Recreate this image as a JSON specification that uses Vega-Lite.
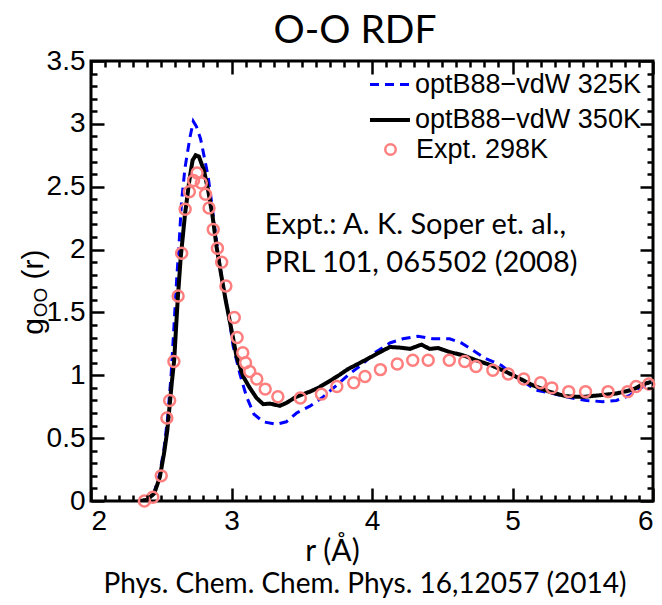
{
  "$schema": "https://vega.github.io/schema/vega-lite/v6.json",
  "width": 562,
  "height": 440,
  "autosize": {"type": "none"},
  "padding": {"left": 91, "top": 61, "right": 9, "bottom": 104},
  "background": "white",
  "config": {
    "view": {"stroke": "black", "strokeWidth": 3},
    "axis": {"grid": false, "domain": true, "domainColor": "transparent", "ticks": true, "tickWidth": 2.5, "labelColor": "black", "labelFont": "Liberation Sans", "labelFontSize": 28, "titleColor": "black"},
    "legend": {"padding": 0}
  },
  "title": {"text": "O-O RDF", "font": "Lato", "fontSize": 39, "fontWeight": "normal", "color": "black", "anchor": "middle", "dx": -17, "offset": -4},
  "datasets": {
    "rdf": [
      {"series": "optB88−vdW 325K", "r": 2.35, "g": 0},
      {"series": "optB88−vdW 325K", "r": 2.40, "g": 0.01},
      {"series": "optB88−vdW 325K", "r": 2.45, "g": 0.07},
      {"series": "optB88−vdW 325K", "r": 2.49, "g": 0.22},
      {"series": "optB88−vdW 325K", "r": 2.52, "g": 0.42},
      {"series": "optB88−vdW 325K", "r": 2.545, "g": 0.66},
      {"series": "optB88−vdW 325K", "r": 2.57, "g": 1.0},
      {"series": "optB88−vdW 325K", "r": 2.59, "g": 1.38},
      {"series": "optB88−vdW 325K", "r": 2.609, "g": 1.75},
      {"series": "optB88−vdW 325K", "r": 2.628, "g": 2.07},
      {"series": "optB88−vdW 325K", "r": 2.645, "g": 2.39},
      {"series": "optB88−vdW 325K", "r": 2.669, "g": 2.65},
      {"series": "optB88−vdW 325K", "r": 2.704, "g": 2.89},
      {"series": "optB88−vdW 325K", "r": 2.728, "g": 3.02},
      {"series": "optB88−vdW 325K", "r": 2.75, "g": 2.98},
      {"series": "optB88−vdW 325K", "r": 2.78, "g": 2.88},
      {"series": "optB88−vdW 325K", "r": 2.80, "g": 2.77},
      {"series": "optB88−vdW 325K", "r": 2.834, "g": 2.58},
      {"series": "optB88−vdW 325K", "r": 2.858, "g": 2.38},
      {"series": "optB88−vdW 325K", "r": 2.88, "g": 2.18},
      {"series": "optB88−vdW 325K", "r": 2.905, "g": 1.97},
      {"series": "optB88−vdW 325K", "r": 2.94, "g": 1.70},
      {"series": "optB88−vdW 325K", "r": 2.977, "g": 1.50},
      {"series": "optB88−vdW 325K", "r": 3.012, "g": 1.23},
      {"series": "optB88−vdW 325K", "r": 3.06, "g": 1.01},
      {"series": "optB88−vdW 325K", "r": 3.107, "g": 0.83},
      {"series": "optB88−vdW 325K", "r": 3.16, "g": 0.69},
      {"series": "optB88−vdW 325K", "r": 3.226, "g": 0.63},
      {"series": "optB88−vdW 325K", "r": 3.32, "g": 0.61},
      {"series": "optB88−vdW 325K", "r": 3.39, "g": 0.63},
      {"series": "optB88−vdW 325K", "r": 3.463, "g": 0.70},
      {"series": "optB88−vdW 325K", "r": 3.558, "g": 0.754},
      {"series": "optB88−vdW 325K", "r": 3.652, "g": 0.828},
      {"series": "optB88−vdW 325K", "r": 3.747, "g": 0.92},
      {"series": "optB88−vdW 325K", "r": 3.842, "g": 1.013},
      {"series": "optB88−vdW 325K", "r": 3.937, "g": 1.093},
      {"series": "optB88−vdW 325K", "r": 4.02, "g": 1.18},
      {"series": "optB88−vdW 325K", "r": 4.127, "g": 1.257},
      {"series": "optB88−vdW 325K", "r": 4.22, "g": 1.29},
      {"series": "optB88−vdW 325K", "r": 4.328, "g": 1.31},
      {"series": "optB88−vdW 325K", "r": 4.435, "g": 1.29},
      {"series": "optB88−vdW 325K", "r": 4.553, "g": 1.29},
      {"series": "optB88−vdW 325K", "r": 4.636, "g": 1.257},
      {"series": "optB88−vdW 325K", "r": 4.72, "g": 1.198},
      {"series": "optB88−vdW 325K", "r": 4.81, "g": 1.132},
      {"series": "optB88−vdW 325K", "r": 4.92, "g": 1.08},
      {"series": "optB88−vdW 325K", "r": 5.028, "g": 0.987},
      {"series": "optB88−vdW 325K", "r": 5.17, "g": 0.881},
      {"series": "optB88−vdW 325K", "r": 5.288, "g": 0.855},
      {"series": "optB88−vdW 325K", "r": 5.407, "g": 0.823},
      {"series": "optB88−vdW 325K", "r": 5.525, "g": 0.80},
      {"series": "optB88−vdW 325K", "r": 5.643, "g": 0.79},
      {"series": "optB88−vdW 325K", "r": 5.74, "g": 0.80},
      {"series": "optB88−vdW 325K", "r": 5.834, "g": 0.84},
      {"series": "optB88−vdW 325K", "r": 5.905, "g": 0.894},
      {"series": "optB88−vdW 325K", "r": 5.987, "g": 0.947},
      {"series": "optB88−vdW 350K", "r": 2.35, "g": 0},
      {"series": "optB88−vdW 350K", "r": 2.40, "g": 0.01},
      {"series": "optB88−vdW 350K", "r": 2.45, "g": 0.06},
      {"series": "optB88−vdW 350K", "r": 2.49, "g": 0.19},
      {"series": "optB88−vdW 350K", "r": 2.52, "g": 0.38},
      {"series": "optB88−vdW 350K", "r": 2.543, "g": 0.56},
      {"series": "optB88−vdW 350K", "r": 2.574, "g": 0.93},
      {"series": "optB88−vdW 350K", "r": 2.592, "g": 1.12},
      {"series": "optB88−vdW 350K", "r": 2.617, "g": 1.60},
      {"series": "optB88−vdW 350K", "r": 2.638, "g": 1.93},
      {"series": "optB88−vdW 350K", "r": 2.669, "g": 2.28},
      {"series": "optB88−vdW 350K", "r": 2.70, "g": 2.55},
      {"series": "optB88−vdW 350K", "r": 2.723, "g": 2.71},
      {"series": "optB88−vdW 350K", "r": 2.745, "g": 2.75},
      {"series": "optB88−vdW 350K", "r": 2.768, "g": 2.74},
      {"series": "optB88−vdW 350K", "r": 2.804, "g": 2.63},
      {"series": "optB88−vdW 350K", "r": 2.834, "g": 2.47},
      {"series": "optB88−vdW 350K", "r": 2.866, "g": 2.26},
      {"series": "optB88−vdW 350K", "r": 2.894, "g": 2.02},
      {"series": "optB88−vdW 350K", "r": 2.925, "g": 1.81},
      {"series": "optB88−vdW 350K", "r": 2.958, "g": 1.60},
      {"series": "optB88−vdW 350K", "r": 3.0, "g": 1.36},
      {"series": "optB88−vdW 350K", "r": 3.036, "g": 1.15},
      {"series": "optB88−vdW 350K", "r": 3.083, "g": 0.99},
      {"series": "optB88−vdW 350K", "r": 3.13, "g": 0.90},
      {"series": "optB88−vdW 350K", "r": 3.178, "g": 0.82},
      {"series": "optB88−vdW 350K", "r": 3.226, "g": 0.77},
      {"series": "optB88−vdW 350K", "r": 3.273, "g": 0.775},
      {"series": "optB88−vdW 350K", "r": 3.344, "g": 0.757},
      {"series": "optB88−vdW 350K", "r": 3.39, "g": 0.78},
      {"series": "optB88−vdW 350K", "r": 3.463, "g": 0.83},
      {"series": "optB88−vdW 350K", "r": 3.558, "g": 0.87},
      {"series": "optB88−vdW 350K", "r": 3.617, "g": 0.90},
      {"series": "optB88−vdW 350K", "r": 3.70, "g": 0.955},
      {"series": "optB88−vdW 350K", "r": 3.771, "g": 1.005},
      {"series": "optB88−vdW 350K", "r": 3.83, "g": 1.05},
      {"series": "optB88−vdW 350K", "r": 3.90, "g": 1.09},
      {"series": "optB88−vdW 350K", "r": 3.984, "g": 1.14},
      {"series": "optB88−vdW 350K", "r": 4.05, "g": 1.18},
      {"series": "optB88−vdW 350K", "r": 4.127, "g": 1.225},
      {"series": "optB88−vdW 350K", "r": 4.20, "g": 1.22},
      {"series": "optB88−vdW 350K", "r": 4.27, "g": 1.21},
      {"series": "optB88−vdW 350K", "r": 4.352, "g": 1.244},
      {"series": "optB88−vdW 350K", "r": 4.41, "g": 1.21},
      {"series": "optB88−vdW 350K", "r": 4.47, "g": 1.217},
      {"series": "optB88−vdW 350K", "r": 4.553, "g": 1.185},
      {"series": "optB88−vdW 350K", "r": 4.648, "g": 1.159},
      {"series": "optB88−vdW 350K", "r": 4.743, "g": 1.119},
      {"series": "optB88−vdW 350K", "r": 4.85, "g": 1.079},
      {"series": "optB88−vdW 350K", "r": 4.957, "g": 1.026},
      {"series": "optB88−vdW 350K", "r": 5.028, "g": 0.987},
      {"series": "optB88−vdW 350K", "r": 5.146, "g": 0.92},
      {"series": "optB88−vdW 350K", "r": 5.265, "g": 0.868},
      {"series": "optB88−vdW 350K", "r": 5.383, "g": 0.833},
      {"series": "optB88−vdW 350K", "r": 5.5, "g": 0.828},
      {"series": "optB88−vdW 350K", "r": 5.62, "g": 0.841},
      {"series": "optB88−vdW 350K", "r": 5.739, "g": 0.855},
      {"series": "optB88−vdW 350K", "r": 5.857, "g": 0.886},
      {"series": "optB88−vdW 350K", "r": 5.928, "g": 0.929},
      {"series": "optB88−vdW 350K", "r": 5.987, "g": 0.947},
      {"series": "Expt. 298K", "r": 2.38, "g": 0.0},
      {"series": "Expt. 298K", "r": 2.44, "g": 0.03},
      {"series": "Expt. 298K", "r": 2.50, "g": 0.20},
      {"series": "Expt. 298K", "r": 2.54, "g": 0.66},
      {"series": "Expt. 298K", "r": 2.56, "g": 0.80},
      {"series": "Expt. 298K", "r": 2.59, "g": 1.11},
      {"series": "Expt. 298K", "r": 2.62, "g": 1.63},
      {"series": "Expt. 298K", "r": 2.645, "g": 1.97},
      {"series": "Expt. 298K", "r": 2.67, "g": 2.32},
      {"series": "Expt. 298K", "r": 2.70, "g": 2.46},
      {"series": "Expt. 298K", "r": 2.73, "g": 2.55},
      {"series": "Expt. 298K", "r": 2.755, "g": 2.61},
      {"series": "Expt. 298K", "r": 2.785, "g": 2.53},
      {"series": "Expt. 298K", "r": 2.815, "g": 2.44},
      {"series": "Expt. 298K", "r": 2.84, "g": 2.33},
      {"series": "Expt. 298K", "r": 2.87, "g": 2.16},
      {"series": "Expt. 298K", "r": 2.90, "g": 2.01},
      {"series": "Expt. 298K", "r": 2.93, "g": 1.90},
      {"series": "Expt. 298K", "r": 2.96, "g": 1.71},
      {"series": "Expt. 298K", "r": 3.02, "g": 1.46},
      {"series": "Expt. 298K", "r": 3.04, "g": 1.30},
      {"series": "Expt. 298K", "r": 3.08, "g": 1.18},
      {"series": "Expt. 298K", "r": 3.10, "g": 1.10},
      {"series": "Expt. 298K", "r": 3.13, "g": 1.03},
      {"series": "Expt. 298K", "r": 3.18, "g": 0.97},
      {"series": "Expt. 298K", "r": 3.24, "g": 0.89},
      {"series": "Expt. 298K", "r": 3.33, "g": 0.83},
      {"series": "Expt. 298K", "r": 3.49, "g": 0.82},
      {"series": "Expt. 298K", "r": 3.64, "g": 0.85},
      {"series": "Expt. 298K", "r": 3.75, "g": 0.91},
      {"series": "Expt. 298K", "r": 3.87, "g": 0.94},
      {"series": "Expt. 298K", "r": 3.95, "g": 0.99},
      {"series": "Expt. 298K", "r": 4.06, "g": 1.045},
      {"series": "Expt. 298K", "r": 4.18, "g": 1.09},
      {"series": "Expt. 298K", "r": 4.29, "g": 1.12},
      {"series": "Expt. 298K", "r": 4.40, "g": 1.12},
      {"series": "Expt. 298K", "r": 4.55, "g": 1.12},
      {"series": "Expt. 298K", "r": 4.66, "g": 1.11},
      {"series": "Expt. 298K", "r": 4.74, "g": 1.07},
      {"series": "Expt. 298K", "r": 4.86, "g": 1.04},
      {"series": "Expt. 298K", "r": 4.97, "g": 1.01},
      {"series": "Expt. 298K", "r": 5.08, "g": 0.97},
      {"series": "Expt. 298K", "r": 5.20, "g": 0.94},
      {"series": "Expt. 298K", "r": 5.28, "g": 0.90},
      {"series": "Expt. 298K", "r": 5.40, "g": 0.87},
      {"series": "Expt. 298K", "r": 5.52, "g": 0.87},
      {"series": "Expt. 298K", "r": 5.68, "g": 0.87},
      {"series": "Expt. 298K", "r": 5.82, "g": 0.87},
      {"series": "Expt. 298K", "r": 5.88, "g": 0.91},
      {"series": "Expt. 298K", "r": 5.97, "g": 0.93}
    ],
    "notes": [
      {"text": "Expt.: A. K. Soper et. al.,", "r": 3.2375, "g": 2.198},
      {"text": "PRL 101, 065502 (2008)", "r": 3.2375, "g": 1.897}
    ],
    "cite": [
      {"text": "Phys. Chem. Chem. Phys. 16,12057 (2014)", "r": 3.95, "g": -0.667}
    ],
    "ytitle": [
      {"text": "g", "r": 1.659, "g": 1.389},
      {"text": "OO", "r": 1.687, "g": 1.579},
      {"text": "(r)", "r": 1.659, "g": 1.881}
    ]
  },
  "resolve": {"axis": {"x": "independent", "y": "independent"}},
  "layer": [
    {
      "data": {"name": "rdf"},
      "transform": [{"filter": "datum.series !== 'Expt. 298K'"}],
      "mark": {"type": "line", "clip": true},
      "encoding": {
        "x": {"field": "r", "type": "quantitative",
          "scale": {"domain": [2, 6], "nice": false, "zero": false},
          "axis": {"orient": "bottom", "values": [2, 3, 4, 5, 6], "format": "d",
            "offset": -13, "tickSize": 13, "tickColor": "black", "labelPadding": 6, "zindex": 1,
            "title": "r (Å)", "titleFont": "Lato", "titleFontSize": 30, "titleFontWeight": "normal", "titlePadding": 1, "titleX": 241, "titleAlign": "center"}},
        "y": {"field": "g", "type": "quantitative",
          "scale": {"domain": [0, 3.5], "nice": false, "zero": false},
          "axis": {"orient": "left", "values": [0, 0.5, 1, 1.5, 2, 2.5, 3, 3.5],
            "labelExpr": "'' + datum.value",
            "offset": -13, "tickSize": 13, "tickColor": "black", "labelPadding": 6, "zindex": 1, "title": null}},
        "stroke": {"field": "series", "type": "nominal",
          "scale": {"domain": ["optB88−vdW 325K", "optB88−vdW 350K"], "range": ["#0000ff", "#000000"]},
          "legend": {"title": null, "orient": "none", "legendX": 277, "legendY": 2, "symbolType": "stroke", "symbolSize": 1600, "symbolStrokeWidth": 3.5, "labelFont": "Liberation Sans", "labelFontSize": 27, "labelColor": "black", "labelOffset": 3, "labelLimit": 400, "rowPadding": 0}},
        "strokeDash": {"field": "series", "type": "nominal",
          "scale": {"domain": ["optB88−vdW 325K", "optB88−vdW 350K"], "range": [[9, 6], [1, 0]]},
          "legend": {"title": null, "orient": "none", "legendX": 277, "legendY": 2, "symbolType": "stroke", "symbolSize": 1600, "symbolStrokeWidth": 3.5, "labelFont": "Liberation Sans", "labelFontSize": 27, "labelColor": "black", "labelOffset": 3, "labelLimit": 400, "rowPadding": 0}},
        "strokeWidth": {"field": "series", "type": "nominal",
          "scale": {"domain": ["optB88−vdW 325K", "optB88−vdW 350K"], "range": [3, 4]},
          "legend": null}
      }
    },
    {
      "data": {"name": "rdf"},
      "transform": [{"filter": "datum.series === 'Expt. 298K'"}],
      "mark": {"type": "point", "filled": false, "color": "#ff7f7f", "strokeWidth": 2.5, "size": 120, "opacity": 1},
      "encoding": {
        "x": {"field": "r", "type": "quantitative",
          "axis": {"orient": "top", "values": [2, 3, 4, 5, 6], "labels": false, "offset": -13, "tickSize": 13, "tickColor": "black", "zindex": 1, "title": null}},
        "y": {"field": "g", "type": "quantitative",
          "axis": {"orient": "right", "values": [0, 0.5, 1, 1.5, 2, 2.5, 3, 3.5], "labels": false, "offset": -13, "tickSize": 13, "tickColor": "black", "zindex": 1, "title": null}},
        "shape": {"field": "series", "type": "nominal",
          "scale": {"domain": ["Expt. 298K"], "range": ["circle"]},
          "legend": {"title": null, "orient": "none", "legendX": 286, "legendY": 75, "symbolSize": 110, "symbolStrokeColor": "#ff7f7f", "symbolStrokeWidth": 2.5, "labelFont": "Liberation Sans", "labelFontSize": 27, "labelColor": "black", "labelOffset": 12}}
      }
    },
    {
      "data": {"name": "notes"},
      "mark": {"type": "text", "align": "left", "baseline": "middle", "font": "Lato", "fontSize": 29, "color": "black"},
      "encoding": {
        "x": {"field": "r", "type": "quantitative",
          "axis": {"orient": "bottom", "values": [2.1,2.2,2.3,2.4,2.5,2.6,2.7,2.8,2.9,3.1,3.2,3.3,3.4,3.5,3.6,3.7,3.8,3.9,4.1,4.2,4.3,4.4,4.5,4.6,4.7,4.8,4.9,5.1,5.2,5.3,5.4,5.5,5.6,5.7,5.8,5.9], "labels": false, "offset": -6, "tickSize": 6, "tickColor": "black", "zindex": 1, "title": null}},
        "y": {"field": "g", "type": "quantitative",
          "axis": {"orient": "left", "values": [0.1,0.2,0.3,0.4,0.6,0.7,0.8,0.9,1.1,1.2,1.3,1.4,1.6,1.7,1.8,1.9,2.1,2.2,2.3,2.4,2.6,2.7,2.8,2.9,3.1,3.2,3.3,3.4], "labels": false, "offset": -6, "tickSize": 6, "tickColor": "black", "zindex": 1, "title": null}},
        "text": {"field": "text"}
      }
    },
    {
      "data": {"name": "cite"},
      "mark": {"type": "text", "align": "center", "baseline": "middle", "font": "Lato", "fontSize": 28, "color": "black"},
      "encoding": {
        "x": {"field": "r", "type": "quantitative",
          "axis": {"orient": "top", "values": [2.1,2.2,2.3,2.4,2.5,2.6,2.7,2.8,2.9,3.1,3.2,3.3,3.4,3.5,3.6,3.7,3.8,3.9,4.1,4.2,4.3,4.4,4.5,4.6,4.7,4.8,4.9,5.1,5.2,5.3,5.4,5.5,5.6,5.7,5.8,5.9], "labels": false, "offset": -6, "tickSize": 6, "tickColor": "black", "zindex": 1, "title": null}},
        "y": {"field": "g", "type": "quantitative",
          "axis": {"orient": "right", "values": [0.1,0.2,0.3,0.4,0.6,0.7,0.8,0.9,1.1,1.2,1.3,1.4,1.6,1.7,1.8,1.9,2.1,2.2,2.3,2.4,2.6,2.7,2.8,2.9,3.1,3.2,3.3,3.4], "labels": false, "offset": -6, "tickSize": 6, "tickColor": "black", "zindex": 1, "title": null}},
        "text": {"field": "text"}
      }
    },
    {
      "data": {"name": "ytitle"},
      "mark": {"type": "text", "align": "center", "baseline": "alphabetic", "angle": 270, "font": "Liberation Sans", "color": "black"},
      "encoding": {
        "x": {"field": "r", "type": "quantitative", "axis": null},
        "y": {"field": "g", "type": "quantitative", "axis": null},
        "text": {"field": "text"},
        "size": {"condition": {"test": "datum.text === 'OO'", "value": 19}, "value": 30}
      }
    }
  ]
}
